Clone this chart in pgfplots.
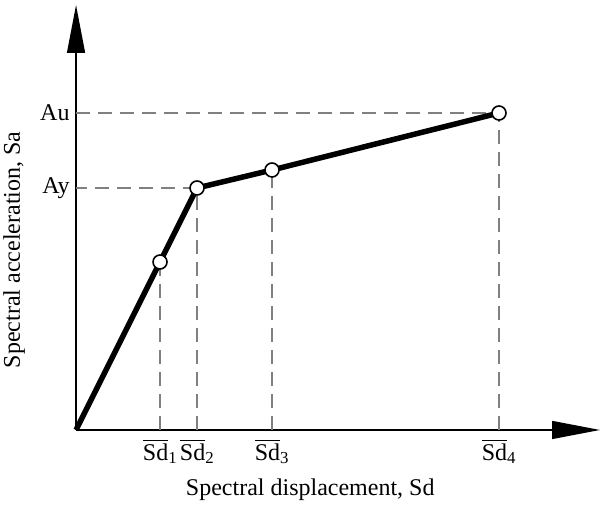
\documentclass[border=0pt]{standalone}
\usepackage{fontspec}
\setmainfont{Liberation Serif}
\usepackage{amsmath}
\usepackage{pgfplots}
\pgfplotsset{compat=1.18}
\usetikzlibrary{arrows.meta}

\begin{document}
\begin{tikzpicture}
\begin{axis}[
    x=1pt, y=1pt,
    xmin=0, xmax=524, ymin=0, ymax=425,
    axis lines=left,
    axis line style={line width=1.4pt, -{Triangle[length=48pt,width=18pt]}},
    clip=false,
    xtick={84,121,196,423},
    xticklabels={
        $\overline{\text{Sd}}_{\text{1}}$,
        $\overline{\text{Sd}}_{\text{2}}$,
        $\overline{\text{Sd}}_{\text{3}}$,
        $\overline{\text{Sd}}_{\text{4}}$},
    ytick={242,317},
    yticklabels={Ay,Au},
    major tick length=0pt,
    tick label style={font=\fontsize{24}{28}\selectfont},
    xticklabel style={yshift=-5pt},
    yticklabel style={xshift=-3pt},
    xlabel={Spectral displacement, Sd},
    ylabel={Spectral acceleration, Sa},
    label style={font=\fontsize{24}{28}\selectfont},
    xlabel style={at={(axis description cs:0.447,-0.141)}, anchor=center},
    ylabel style={at={(axis description cs:-0.118,0.424)}, anchor=center},
]
% frame of the picture
\path (axis cs:-76,-74) (axis cs:529,430);
% guide lines
\addplot[gray, line width=1.1pt, dash pattern=on 14pt off 8pt]
    coordinates {(84,0) (84,168)};
\addplot[gray, line width=1.1pt, dash pattern=on 14pt off 8pt]
    coordinates {(121,0) (121,242) (0,242)};
\addplot[gray, line width=1.1pt, dash pattern=on 14pt off 8pt]
    coordinates {(196,0) (196,260)};
\addplot[gray, line width=1.1pt, dash pattern=on 14pt off 8pt]
    coordinates {(423,0) (423,317) (0,317)};
% capacity curve
\addplot[black, line width=5.5pt, mark=none]
    coordinates {(0,0) (84,168) (121,242) (196,260) (423,317)};
\addplot[only marks, mark=*, mark size=7pt,
    mark options={fill=white, draw=black, line width=1.6pt}]
    coordinates {(84,168) (121,242) (196,260) (423,317)};
\end{axis}
\end{tikzpicture}
\end{document}
